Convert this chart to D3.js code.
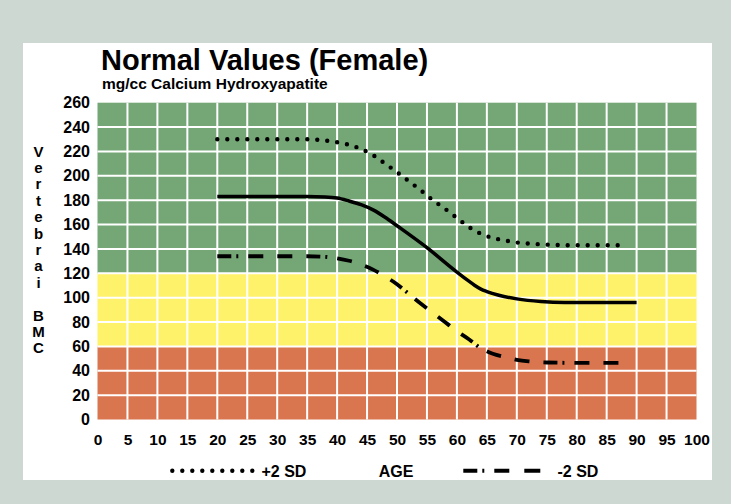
<!DOCTYPE html>
<html>
<head>
<meta charset="utf-8">
<script src="https://cdn.jsdelivr.net/npm/d3@7"></script>
<style>
  html, body { margin: 0; padding: 0; background: #cdd8d3; }
  svg { display: block; }
  text { font-family: "Liberation Sans", Arial, Helvetica, sans-serif; font-weight: bold; fill: #000; }
</style>
</head>
<body>
<svg id="chart" width="731" height="504"></svg>
<script>
// ---------- data ----------
const xTicks = [0,5,10,15,20,25,30,35,40,45,50,55,60,65,70,75,80,85,90,95,100];
const yTicks = [0,20,40,60,80,100,120,140,160,180,200,220,240,260];

const zoneNames  = ["low", "mid", "high"];
const zoneFrom   = [0, 60, 120];
const zoneTo     = [60, 120, 260];
const zoneColors = ["#d97650", "#fff26b", "#74a676"];

const plusAges = [20,25,30,35,38,40,42,44,46,48,50,52,54,56,58,60,62,64,66,68,70,74,80,88.5];
const plusVals = [230,230,230,230,229,227.5,225.5,222,217,210,203,195.5,188,180,173,165.5,158,152.5,149,147,145.3,143.8,143,143];

const meanAges = [20,25,30,35,38,40,42,44,46,48,50,55,60,62,63,64,65,67,70,74,78,90];
const meanVals = [183,183,183,183,182.7,181.8,179.3,176.3,172,166,159,141,121,113.5,110,107,105,102,99,96.8,96,96];

const minusAges = [20,25,30,35,38,40,42,44,46,48,50,52,54,56,58,60,62,64,66,68,70,72,75,80,88.5];
const minusVals = [134,134,134,134,133.5,132.3,130.3,127.2,123,117.5,111,103,95,87.5,80,72.5,65.8,58.5,54,51.3,49,47.7,46.8,46.5,46.5];

const titleText = "Normal Values (Female)";
const subtitleText = "mg/cc Calcium Hydroxyapatite";
const yTitleText = "Vertebrai BMC";
const xTitleText = "AGE";
const legendPlus = "+2 SD";
const legendMinus = "-2 SD";

// ---------- layout ----------
const svg = d3.select("#chart");
const W = 731, H = 504;
const plot = { left: 97.5, right: 696.5, top: 102.7, bottom: 419.5 };

svg.append("rect").attr("x", 0).attr("y", 0).attr("width", W).attr("height", H).attr("fill", "#cdd8d3");
svg.append("rect").attr("x", 23).attr("y", 43).attr("width", 689).attr("height", 437).attr("fill", "#ffffff");

const x = d3.scaleLinear().domain([0, 100]).range([plot.left, plot.right]);
const y = d3.scaleLinear().domain([0, 260]).range([plot.bottom, plot.top]);

// zones
svg.append("g").selectAll("rect").data(zoneNames).join("rect")
  .attr("x", x(0)).attr("width", x(100) - x(0))
  .attr("y", (d, i) => y(zoneTo[i]))
  .attr("height", (d, i) => y(zoneFrom[i]) - y(zoneTo[i]))
  .attr("fill", (d, i) => zoneColors[i]);

// grid
const grid = svg.append("g").attr("stroke", "#ffffff").attr("stroke-width", 2);
grid.selectAll("line.v").data(xTicks.filter(t => t > 0 && t < 100)).join("line")
  .attr("class", "v")
  .attr("x1", d => x(d)).attr("x2", d => x(d))
  .attr("y1", y(260)).attr("y2", y(0));
grid.selectAll("line.h").data(yTicks.filter(t => t > 0 && t < 260)).join("line")
  .attr("class", "h")
  .attr("y1", d => y(d)).attr("y2", d => y(d))
  .attr("x1", x(0)).attr("x2", x(100));

// axes (labels only)
const yAxis = d3.axisLeft(y).tickValues(yTicks).tickSize(0).tickPadding(0);
const gy = svg.append("g").attr("transform", `translate(${plot.left - 7.5},0)`).call(yAxis);
gy.select(".domain").remove();
gy.selectAll("text").attr("font-size", 16).style("font-family", '"Liberation Sans", Arial, sans-serif').style("font-weight", "bold").attr("fill", "#000");

const xAxis = d3.axisBottom(x).tickValues(xTicks).tickSize(0).tickPadding(0);
const gx = svg.append("g").attr("transform", `translate(0,${plot.bottom + 14.5})`).call(xAxis);
gx.select(".domain").remove();
gx.selectAll("text").attr("font-size", 15.5).style("font-family", '"Liberation Sans", Arial, sans-serif').style("font-weight", "bold").attr("fill", "#000");

// titles
svg.append("text").attr("x", 101).attr("y", 70).attr("font-size", 29).text(titleText);
svg.append("text").attr("x", 102).attr("y", 89).attr("font-size", 15.5).text(subtitleText);

// y title (stacked letters)
const letters = yTitleText.split("");
svg.append("g").selectAll("text").data(letters).join("text")
  .attr("x", 38.5).attr("y", (d, i) => 156.5 + i * 16.4)
  .attr("text-anchor", "middle").attr("font-size", 15)
  .text(d => d);

// lines
const line = d3.line().x(d => x(d[0])).y(d => y(d[1])).curve(d3.curveMonotoneX);
const plusData = plusAges.map((a, i) => [a, plusVals[i]]);
const meanData = meanAges.map((a, i) => [a, meanVals[i]]);
const minusData = minusAges.map((a, i) => [a, minusVals[i]]);

const dashMinus = "14,5,2,10,15,14,15,14";

svg.append("path").datum(plusData).attr("d", line)
  .attr("fill", "none").attr("stroke", "#000").attr("stroke-width", 4.4)
  .attr("stroke-linecap", "round").attr("stroke-dasharray", "0,10");
svg.append("path").datum(meanData).attr("d", line)
  .attr("fill", "none").attr("stroke", "#000").attr("stroke-width", 3.5);
svg.append("path").datum(minusData).attr("d", line)
  .attr("fill", "none").attr("stroke", "#000").attr("stroke-width", 3.8)
  .attr("stroke-dasharray", dashMinus);

// legend
const ly = 470.7;
svg.append("line").attr("x1", 172.3).attr("x2", 253).attr("y1", ly).attr("y2", ly)
  .attr("stroke", "#000").attr("stroke-width", 4.4).attr("stroke-linecap", "round")
  .attr("stroke-dasharray", "0,10");
svg.append("text").attr("x", 261.5).attr("y", 476.5).attr("font-size", 16).text(legendPlus);
svg.append("text").attr("x", 396).attr("y", 476.5).attr("text-anchor", "middle").attr("font-size", 16).text(xTitleText);
svg.append("line").attr("x1", 463.3).attr("x2", 542).attr("y1", ly).attr("y2", ly)
  .attr("stroke", "#000").attr("stroke-width", 4)
  .attr("stroke-dasharray", "14,5,2,10,15,15,16,100");
svg.append("text").attr("x", 557.5).attr("y", 476.5).attr("font-size", 16).text(legendMinus);
</script>
</body>
</html>
